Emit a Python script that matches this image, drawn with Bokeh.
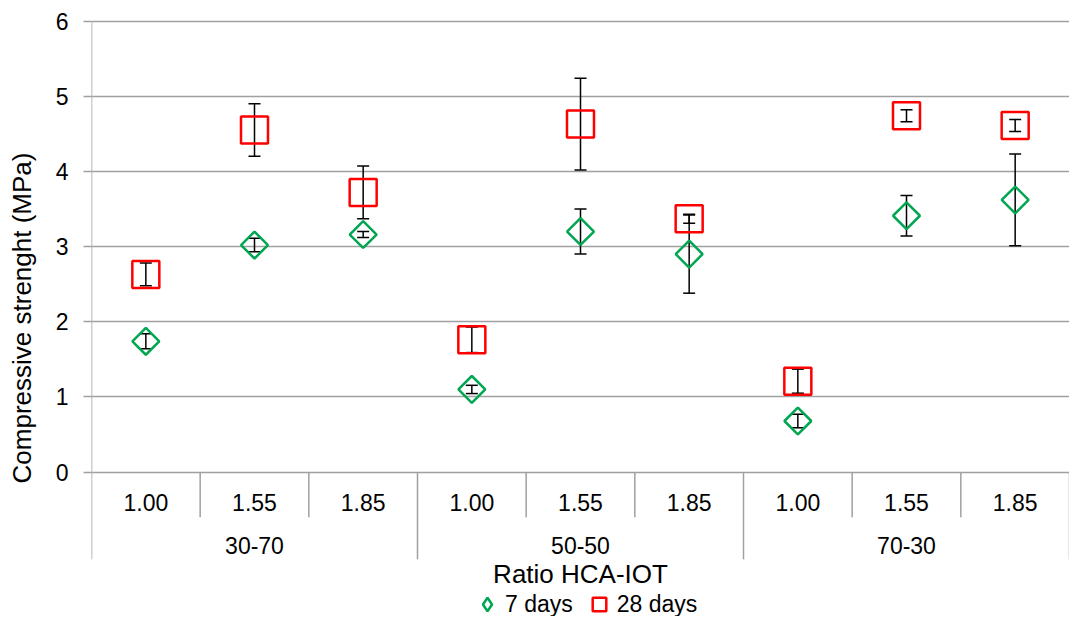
from bokeh.plotting import figure
from bokeh.models import (FactorRange, Range1d, ColumnDataSource, Whisker, TeeHead,
                          Legend, LegendItem, FixedTicker)
from bokeh.core.properties import value
from bokeh.embed import file_html
from bokeh.resources import INLINE
import numpy as np

# ---- data ----
groups = ["30-70", "50-50", "70-30"]
ratios = ["1.00", "1.55", "1.85"]
days7 = [1.74, 3.02, 3.16, 1.10, 3.20, 2.90, 0.68, 3.41, 3.62]
days7_err = [0.10, 0.09, 0.04, 0.055, 0.30, 0.52, 0.09, 0.27, 0.61]
days28 = [2.63, 4.55, 3.72, 1.76, 4.63, 3.37, 1.21, 4.74, 4.61]
days28_err = [0.15, 0.35, 0.35, 0.17, 0.61, 0.06, 0.16, 0.08, 0.08]
y_ticks = [0, 1, 2, 3, 4, 5, 6]
x_title = "Ratio HCA-IOT"
y_title = "Compressive strenght (MPa)"
series_names = ["7 days", "28 days"]

FONT = "Liberation Sans"
GRID = "#A0A0A0"
GREEN = "#00A651"
RED = "#FF0000"

# layout constants (data units below the value axis)
Y_TOP = 6.02
Y_BOTTOM = -1.92
Y_AXIS_END = -1.16
INNER_SEP_END = -0.6
RATIO_LABEL_Y = -0.40
GROUP_LABEL_Y = -0.97
TITLE_Y = -1.35

factors = [(g, r) for g in groups for r in ratios]

p = figure(width=1069, height=616,
           x_range=FactorRange(*factors, factor_padding=0, group_padding=0,
                               subgroup_padding=0, range_padding=0),
           y_range=Range1d(Y_BOTTOM, Y_TOP),
           x_axis_location=None, output_backend="svg", toolbar_location=None,
           min_border_left=91, min_border_right=0, min_border_top=19,
           min_border_bottom=0)
p.outline_line_color = None
p.background_fill_color = "white"
p.border_fill_color = "white"

# y axis
ax = p.yaxis[0]
ax.ticker = FixedTicker(ticks=y_ticks)
ax.axis_line_color = None
ax.major_tick_line_color = GRID
ax.major_tick_line_width = 1.5
ax.major_tick_out = 8
ax.major_tick_in = 0
ax.minor_tick_line_color = None
ax.major_label_text_font = FONT
ax.major_label_text_font_size = "23px"
ax.major_label_text_color = "black"
ax.major_label_standoff = 15
ax.axis_label = y_title
ax.axis_label_text_font = FONT
ax.axis_label_text_font_size = "26px"
ax.axis_label_text_font_style = "normal"
ax.axis_label_text_color = "black"
ax.axis_label_standoff = 16

p.ygrid.grid_line_color = GRID
p.ygrid.grid_line_width = 1.5
p.ygrid.ticker = FixedTicker(ticks=y_ticks)
for g in p.xgrid:
    g.visible = False

# value-axis line and category separators
outer_x = [(g, ratios[0], -0.5) for g in groups] + [(groups[-1], ratios[-1], 0.5)]
p.segment(x0=outer_x[:1], x1=outer_x[:1], y0=[y_ticks[-1]], y1=[Y_AXIS_END],
          line_color=GRID, line_width=1.5)
inner_x = [(g, r, -0.5) for g in groups for r in ratios[1:]]
p.segment(x0=inner_x, x1=inner_x, y0=[0] * len(inner_x), y1=[INNER_SEP_END] * len(inner_x),
          line_color=GRID, line_width=1.5)
p.segment(x0=outer_x[1:], x1=outer_x[1:], y0=[0] * (len(outer_x) - 1),
          y1=[Y_AXIS_END] * (len(outer_x) - 1), line_color=GRID, line_width=1.5)

# category labels and axis title
p.text(x=factors, y=[RATIO_LABEL_Y] * len(factors), text=[f[1] for f in factors],
       text_font=value(FONT), text_font_size="23px", text_align="center",
       text_baseline="middle", text_color="black")
p.text(x=groups, y=[GROUP_LABEL_Y] * len(groups), text=groups,
       text_font=value(FONT), text_font_size="23px", text_align="center",
       text_baseline="middle", text_color="black")
p.text(x=[groups[1]], y=[TITLE_Y], text=[x_title],
       text_font=value(FONT), text_font_size="26px", text_align="center",
       text_baseline="middle", text_color="black")

# data
src = ColumnDataSource(dict(
    x=factors, d7=days7, d28=days28,
    lo7=[v - e for v, e in zip(days7, days7_err)],
    hi7=[v + e for v, e in zip(days7, days7_err)],
    lo28=[v - e for v, e in zip(days28, days28_err)],
    hi28=[v + e for v, e in zip(days28, days28_err)],
))

r7 = p.scatter(x="x", y="d7", source=src, marker="square", angle=np.pi / 4, size=19,
               fill_color=None, line_color=GREEN, line_width=2.5)
r28 = p.scatter(x="x", y="d28", source=src, marker="square", size=27,
                fill_color=None, line_color=RED, line_width=2.5)

for lo, hi in (("lo7", "hi7"), ("lo28", "hi28")):
    w = Whisker(base="x", lower=lo, upper=hi, source=src,
                line_color="black", line_width=1.5,
                upper_head=TeeHead(size=12, line_color="black", line_width=1.5),
                lower_head=TeeHead(size=12, line_color="black", line_width=1.5))
    p.add_layout(w)

# legend proxies (not drawn in the plot: y is NaN)
proxy = ColumnDataSource(dict(x=[factors[0]], y=[np.nan]))
l7 = p.scatter(x="x", y="y", source=proxy, marker="diamond",
               fill_color=None, line_color=GREEN, line_width=2.5)
l28 = p.scatter(x="x", y="y", source=proxy, marker="square",
                fill_color=None, line_color=RED, line_width=2.5)

legend = Legend(items=[LegendItem(label=series_names[0], renderers=[l7], index=0),
                       LegendItem(label=series_names[1], renderers=[l28], index=0)],
                orientation="horizontal", location=(378, -5),
                border_line_color=None, background_fill_alpha=0,
                label_text_font=FONT, label_text_font_size="23px",
                label_text_color="black",
                glyph_width=36, glyph_height=34, label_standoff=-6,
                spacing=8, padding=0, margin=0)
p.add_layout(legend)

open("out.html", "w").write(file_html(p, INLINE))
